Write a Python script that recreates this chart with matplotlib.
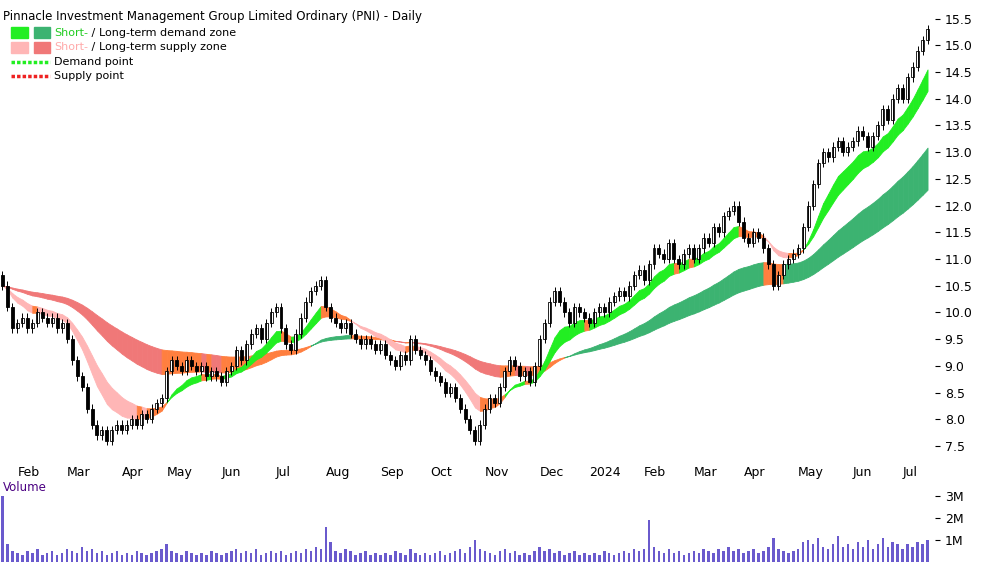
import matplotlib
matplotlib.use('Agg')
import matplotlib.pyplot as plt
from matplotlib.patches import Rectangle
import numpy as np

# closes sampled every ~2 trading days, Jan 25 2023 .. Jul 10 2024
closes = [10.5, 10.1, 9.7,
          9.8, 9.9, 9.7, 9.8, 10.0, 9.9, 9.8, 9.9, 9.7, 9.8,
          9.5, 9.1, 8.8, 8.6, 8.2, 7.9, 7.7, 7.8, 7.6, 7.8, 7.9,
          7.8, 7.9, 8.0, 7.9, 8.1, 8.0, 8.2, 8.3, 8.4,
          8.9, 9.1, 9.0, 8.9, 9.1, 9.0, 8.9, 9.0, 8.8, 8.9, 8.8,
          8.7, 8.9, 9.0, 9.3, 9.1, 9.4, 9.6, 9.7, 9.5, 9.8, 10.0,
          10.1, 9.7, 9.4, 9.3, 9.6, 9.9, 10.2, 10.4, 10.5, 10.6,
          10.1, 9.9, 9.8, 9.7, 9.8, 9.6, 9.5, 9.4, 9.5, 9.4, 9.3,
          9.4, 9.2, 9.1, 9.0, 9.2, 9.1, 9.5, 9.3, 9.2, 9.1,
          8.9, 8.8, 8.7, 8.5, 8.6, 8.4, 8.2, 8.0, 7.8, 7.6, 7.9,
          8.2, 8.4, 8.3, 8.6, 8.9, 9.1, 9.0, 8.8, 8.9, 8.7, 9.0,
          9.5, 9.8, 10.2, 10.4, 10.2, 10.0, 9.8, 10.1, 10.0, 9.9,
          9.8, 10.0, 10.1, 10.0, 10.2, 10.3, 10.4, 10.3, 10.5, 10.7, 10.8,
          10.6, 10.9, 11.2, 11.1, 11.0, 11.3, 11.0, 10.9, 11.1, 11.2,
          11.0, 11.2, 11.4, 11.3, 11.6, 11.5, 11.8, 11.9, 12.0, 11.7,
          11.4, 11.3, 11.5, 11.4, 11.2, 10.9, 10.5, 10.7, 10.9, 11.0, 11.1,
          11.2, 11.6, 12.0, 12.4, 12.8, 13.0, 12.9, 13.1, 13.2, 13.0, 13.1,
          13.2, 13.4, 13.3, 13.1, 13.3, 13.5, 13.8, 13.6, 14.0, 14.2,
          14.0, 14.4, 14.6, 14.9, 15.1, 15.3]

volume = [3.0, 0.8, 0.5,
          0.4, 0.3, 0.5, 0.4, 0.6, 0.3, 0.4, 0.5, 0.3, 0.4,
          0.6, 0.5, 0.4, 0.7, 0.5, 0.6, 0.4, 0.5, 0.3, 0.4, 0.5,
          0.3, 0.4, 0.3, 0.5, 0.4, 0.3, 0.4, 0.5, 0.6,
          0.8, 0.5, 0.4, 0.3, 0.5, 0.4, 0.3, 0.4, 0.3, 0.5, 0.4,
          0.3, 0.4, 0.5, 0.6, 0.4, 0.5, 0.4, 0.6, 0.3, 0.4, 0.5,
          0.4, 0.5, 0.3, 0.4, 0.5, 0.4, 0.6, 0.5, 0.7, 0.6,
          1.6, 0.9, 0.5, 0.4, 0.6, 0.5, 0.3, 0.4, 0.5, 0.3, 0.4,
          0.3, 0.4, 0.3, 0.5, 0.4, 0.3, 0.6, 0.4, 0.3, 0.4,
          0.3, 0.4, 0.5, 0.3, 0.4, 0.5, 0.6, 0.4, 0.7, 1.0, 0.6,
          0.5, 0.4, 0.3, 0.5, 0.6, 0.4, 0.5, 0.3, 0.4, 0.3, 0.5,
          0.7, 0.5, 0.6, 0.4, 0.5, 0.3, 0.4, 0.5, 0.3, 0.4,
          0.3, 0.4, 0.3, 0.5, 0.4, 0.3, 0.4, 0.5, 0.4, 0.6, 0.5,
          0.6, 1.9, 0.7, 0.5, 0.4, 0.6, 0.4, 0.5, 0.3, 0.4,
          0.5, 0.4, 0.6, 0.5, 0.4, 0.6, 0.5, 0.7, 0.5, 0.6,
          0.4, 0.5, 0.6, 0.4, 0.5, 0.7, 1.1, 0.6, 0.5, 0.4, 0.5,
          0.6, 0.9, 1.0, 0.8, 1.1, 0.7, 0.6, 0.8, 1.2, 0.7, 0.8,
          0.6, 0.9, 0.7, 1.0, 0.6, 0.8, 1.1, 0.7, 0.9, 0.8,
          0.6, 0.8, 0.7, 0.9, 0.8, 1.0]

month_labels = ['Feb', 'Mar', 'Apr', 'May', 'Jun', 'Jul', 'Aug', 'Sep', 'Oct',
                'Nov', 'Dec', '2024', 'Feb', 'Mar', 'Apr', 'May', 'Jun', 'Jul']
points_per_month = [3, 10, 11, 9, 11, 11, 10, 11, 10, 11, 11, 10, 11, 10, 10, 11, 11, 10]

closes = np.array(closes)
volume = np.array(volume)
n = len(closes)
x = np.arange(n)
opens = np.r_[closes[0] + 0.2, closes[:-1]]
month_pos = np.cumsum(points_per_month)


def ema(v, span):
    a = 2.0 / (span + 1)
    out = np.empty_like(v)
    out[0] = v[0]
    for k in range(1, len(v)):
        out[k] = a * v[k] + (1 - a) * out[k - 1]
    return out


s_fast, s_slow = ema(closes, 9), ema(closes, 15)
l_fast, l_slow = ema(closes, 38), ema(closes, 65)

fig = plt.figure(figsize=(10, 5.62), dpi=100)
ax = fig.add_axes([0.0, 0.178, 0.935, 0.808])
axv = fig.add_axes([0.0, 0.0, 0.935, 0.148])


def zone(fast, slow, up_col, down_col, mid_col):
    for k in range(1, n):
        rising = fast[k] > fast[k - 1]
        if rising and fast[k] >= slow[k]:
            c = up_col
        elif not rising and fast[k] < slow[k]:
            c = down_col
        else:
            c = mid_col
        ax.fill_between([k - 1, k], [fast[k - 1], fast[k]], [slow[k - 1], slow[k]],
                        facecolor=c, edgecolor=c, lw=0.6)


zone(l_fast, l_slow, '#3cb371', '#f07878', '#ff7f3f')
zone(s_fast, s_slow, '#22ee22', '#ffb6b6', '#ff7f3f')

for k in range(n):
    o, c = opens[k], closes[k]
    lo, hi = min(o, c), max(o, c)
    ax.vlines(k, lo - 0.08, hi + 0.08, color='black', lw=0.7)
    ax.add_patch(Rectangle((k - 0.3, lo), 0.6, max(hi - lo, 0.02),
                           facecolor='white' if c >= o else 'black',
                           edgecolor='black', lw=0.6))

ax.set_xlim(-0.5, n + 0.5)
ax.set_ylim(7.2, 15.7)
ax.yaxis.tick_right()
ax.set_yticks(np.arange(7.5, 15.6, 0.5))
ax.set_yticklabels([f'{v:.1f}' for v in np.arange(7.5, 15.6, 0.5)], fontsize=9)
ax.set_xticks(month_pos)
ax.set_xticklabels(month_labels, fontsize=9, ha='left')
ax.tick_params(axis='x', length=0, pad=3)
for s in ['top', 'left', 'right', 'bottom']:
    ax.spines[s].set_visible(False)

ax.text(0.003, 0.995, 'Pinnacle Investment Management Group Limited Ordinary (PNI) - Daily',
        transform=ax.transAxes, fontsize=8.5, va='top')
legend_rows = [
    (('#22ee22', '#3cb371'), 'Short-', ' / ', 'Long-term demand zone', '#22cc22', '#2e8b57'),
    (('#ffb6b6', '#f07878'), 'Short-', ' / ', 'Long-term supply zone', '#ffaaaa', '#f06060'),
]
for i, (cols, a, sep, b, ca, cb) in enumerate(legend_rows):
    y = 0.945 - i * 0.032
    ax.add_patch(Rectangle((0.012, y - 0.012), 0.018, 0.024, transform=ax.transAxes, color=cols[0]))
    ax.add_patch(Rectangle((0.036, y - 0.012), 0.018, 0.024, transform=ax.transAxes, color=cols[1]))
    t = ax.text(0.058, y, a, transform=ax.transAxes, fontsize=8, va='center', color=ca)
    t2 = ax.annotate(sep, xycoords=t, xy=(1, 0), va='bottom', fontsize=8)
    ax.annotate(b, xycoords=t2, xy=(1, 0), va='bottom', fontsize=8, color='black')
for i, (col, lab) in enumerate([('#22ee22', 'Demand point'), ('#ee2222', 'Supply point')]):
    y = 0.881 - i * 0.032
    ax.plot([0.012, 0.054], [y, y], transform=ax.transAxes, color=col, lw=2.5, ls=(0, (1, 0.6)))
    ax.text(0.058, y, lab, transform=ax.transAxes, fontsize=8, va='center')

axv.bar(x, volume, width=0.5, color='#6a5acd')
axv.set_xlim(-0.5, n + 0.5)
axv.set_ylim(0, 3.8)
axv.yaxis.tick_right()
axv.set_yticks([1, 2, 3])
axv.set_yticklabels(['1M', '2M', '3M'], fontsize=9)
axv.set_xticks([])
for s in ['top', 'left', 'right', 'bottom']:
    axv.spines[s].set_visible(False)
axv.text(0.003, 0.97, 'Volume', transform=axv.transAxes, fontsize=8.5, va='top', color='#4b0082')

fig.savefig('out.png', dpi=100)
